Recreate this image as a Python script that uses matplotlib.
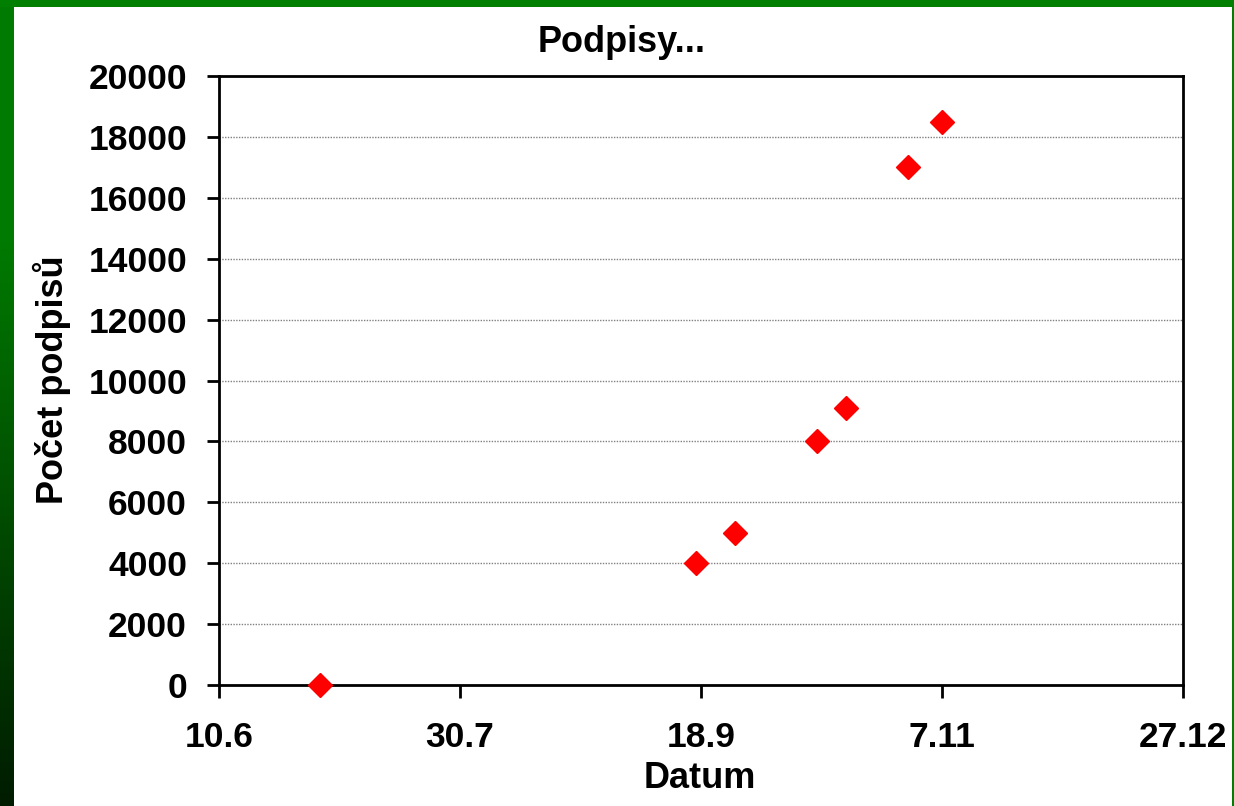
import datetime as dt
import numpy as np
import matplotlib
matplotlib.use("Agg")
import matplotlib.pyplot as plt
import matplotlib.dates as mdates
from matplotlib.patches import Rectangle

# data
dates = [dt.date(2008, 7, 1), dt.date(2008, 9, 17), dt.date(2008, 9, 25),
         dt.date(2008, 10, 12), dt.date(2008, 10, 18), dt.date(2008, 10, 31),
         dt.date(2008, 11, 7)]
podpisy = [0, 4000, 5000, 8000, 9100, 17000, 18500]

tick_dates = [dt.date(2008, 6, 10), dt.date(2008, 7, 30), dt.date(2008, 9, 18),
              dt.date(2008, 11, 7), dt.date(2008, 12, 27)]
y_ticks = list(range(0, 20001, 2000))

plt.rcParams['font.family'] = ['Liberation Sans', 'DejaVu Sans']
plt.rcParams['font.weight'] = 'bold'

W, H = 1234, 806
fig = plt.figure(figsize=(W / 100, H / 100), dpi=100, facecolor='white')

# green frame: top band, right line, left band with gradient
fig.patches.append(Rectangle((0, 1 - 7 / H), 1, 7 / H, transform=fig.transFigure,
                             facecolor='#007f00', edgecolor='none', zorder=0))
fig.patches.append(Rectangle((1 - 2 / W, 0), 2 / W, 1, transform=fig.transFigure,
                             facecolor='#007f00', edgecolor='none', zorder=0))
gax = fig.add_axes([0, 0, 14 / W, 1])
t = np.linspace(0, 1, 256)
green = np.array([0, 0x7a, 0]) / 255
dark = np.array([0, 0x1c, 0]) / 255
frac = np.clip((t - 0.3) / 0.7, 0, 1)[:, None]
grad = green * (1 - frac) + dark * frac
gax.imshow(grad[:, None, :], aspect='auto', extent=[0, 1, 0, 1], origin='upper')
gax.set_axis_off()

ax = fig.add_axes([219 / W, 1 - 685 / H, (1183 - 219) / W, (685 - 76) / H])
ax.plot(dates, podpisy, linestyle='none', marker='D', markersize=12.5,
        color='#ff0000', markeredgecolor='#ff0000', zorder=3, clip_on=False)

ax.set_xlim(tick_dates[0], tick_dates[-1])
ax.set_ylim(0, 20000)
ax.set_xticks(tick_dates)
ax.xaxis.set_major_formatter(plt.FuncFormatter(
    lambda v, p: "{}.{}".format(mdates.num2date(v).day, mdates.num2date(v).month)))
ax.set_yticks(y_ticks)

ax.grid(axis='y', color='#808080', linestyle=(0, (1, 1)), linewidth=1)
ax.set_axisbelow(True)
for s in ax.spines.values():
    s.set_linewidth(2)
    s.set_color('black')

ax.tick_params(axis='both', direction='out', length=9, width=2, labelsize=25.5)
ax.tick_params(axis='y', pad=14)
ax.tick_params(axis='x', pad=17)
for lab in ax.get_xticklabels() + ax.get_yticklabels():
    lab.set_fontweight('bold')

fig.text(622 / W, 1 - 42 / H, 'Podpisy...', fontsize=26, fontweight='bold',
         ha='center', va='center')
fig.text(700 / W, 1 - 778 / H, 'Datum', fontsize=26, fontweight='bold',
         ha='center', va='center')
fig.text(52 / W, 1 - 380 / H, 'Počet podpisů', fontsize=26, fontweight='bold',
         ha='center', va='center', rotation=90)

fig.savefig('out.png', dpi=100, facecolor='white')
